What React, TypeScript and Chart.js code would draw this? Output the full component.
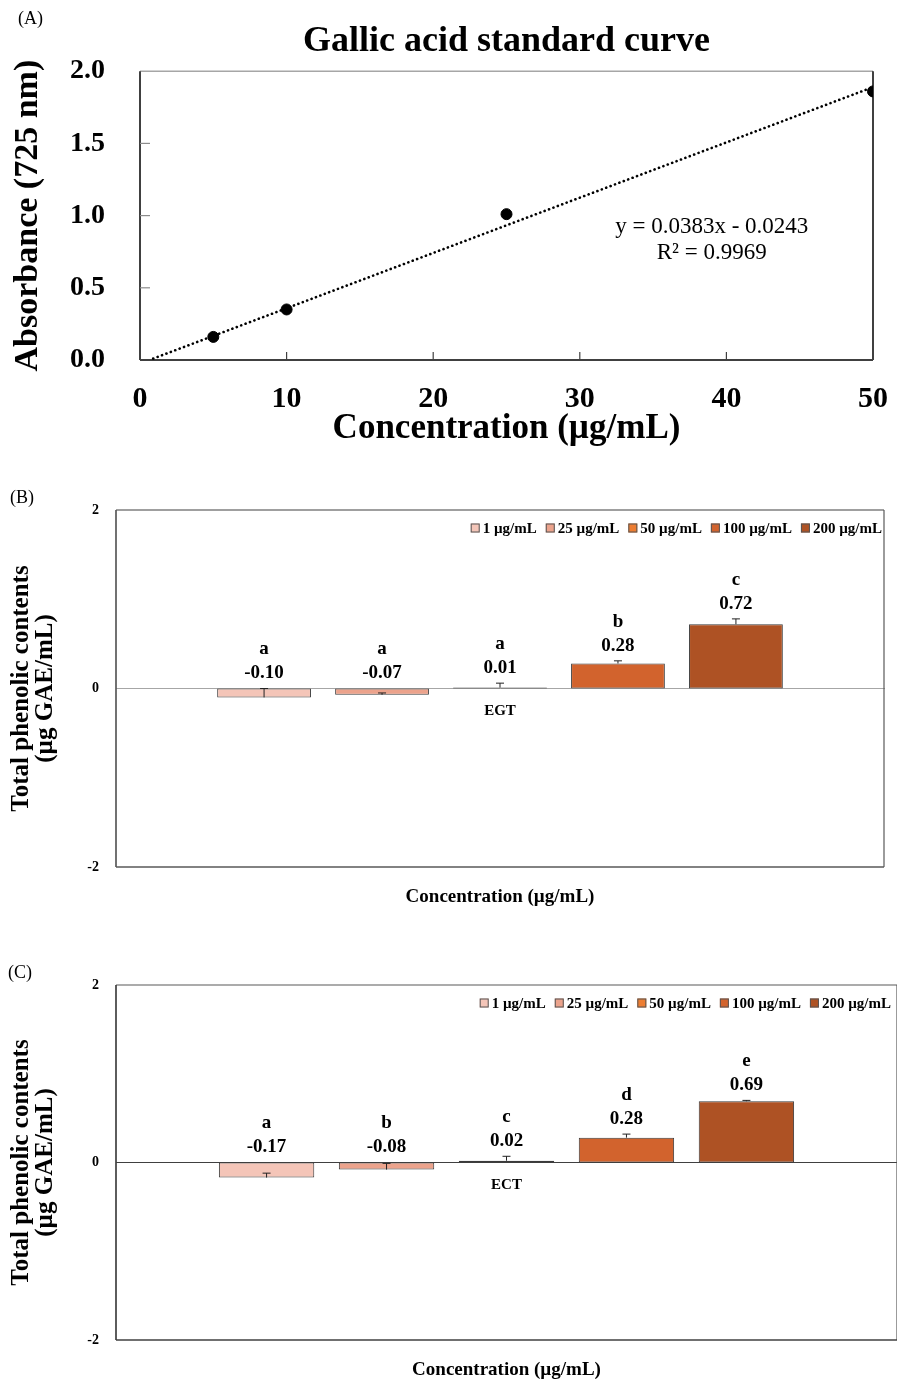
import React, { useEffect, useRef } from 'react';
import { Chart, registerables } from 'chart.js';

Chart.register(...registerables);

const SERIF = '"Liberation Serif", "Times New Roman", serif';

// ---------- Panel A data ----------
const stdConc = [5, 10, 25, 50];
const stdAbs = [0.16, 0.35, 1.01, 1.86];
const trendConc = [0.9, 50];
const trendAbs = [0.01, 1.89];
const equationLines = ['y = 0.0383x - 0.0243', 'R² = 0.9969'];
const equationAnchor = { x: 39.0, y: [0.92, 0.74] };

// ---------- Panel B / C data ----------
const doseLabels = ['1 µg/mL', '25 µg/mL', '50 µg/mL', '100 µg/mL', '200 µg/mL'];
const doseColors = ['#F4C5B8', '#ECA38C', '#ED7D31', '#D2632D', '#AE5224'];

const egtCategory = ['EGT'];
const egtValues = [-0.10, -0.07, 0.01, 0.28, 0.72];
const egtErrors = [0.10, 0.02, 0.05, 0.03, 0.06];
const egtLetters = ['a', 'a', 'a', 'b', 'c'];

const ectCategory = ['ECT'];
const ectValues = [-0.17, -0.08, 0.02, 0.28, 0.69];
const ectErrors = [0.05, 0.07, 0.05, 0.04, 0.01];
const ectLetters = ['a', 'b', 'c', 'd', 'e'];

type Sides = { top: string; right: string; bottom: string; left: string; width: number };

function line(ctx: CanvasRenderingContext2D, x1: number, y1: number, x2: number, y2: number, color: string, w: number) {
  ctx.save();
  ctx.strokeStyle = color;
  ctx.lineWidth = w;
  ctx.beginPath();
  ctx.moveTo(x1, y1);
  ctx.lineTo(x2, y2);
  ctx.stroke();
  ctx.restore();
}

function framePlugin(id: string, sides: Sides, innerTicks: boolean) {
  return {
    id,
    beforeDatasetsDraw(chart: any) {
      const { ctx, chartArea } = chart;
      const { left, right, top, bottom } = chartArea;
      const w = sides.width;
      line(ctx, left, top, right, top, sides.top, w);
      line(ctx, right, top, right, bottom, sides.right, w);
      line(ctx, left, bottom, right, bottom, sides.bottom, w + 0.5);
      line(ctx, left, top, left, bottom, sides.left, w + 0.5);
      if (innerTicks) {
        const xs = chart.scales.x;
        const ys = chart.scales.y;
        xs.ticks.forEach((t: any) => {
          if (t.value <= xs.min || t.value >= xs.max) return;
          const px = xs.getPixelForValue(t.value);
          line(ctx, px, bottom, px, bottom - 8, '#404040', 1.2);
        });
        ys.ticks.forEach((t: any) => {
          if (t.value <= ys.min || t.value >= ys.max) return;
          const py = ys.getPixelForValue(t.value);
          line(ctx, left, py, left + 10, py, '#8c8c8c', 1.2);
        });
      }
    },
  };
}

const equationPlugin = {
  id: 'equation',
  afterDraw(chart: any) {
    const { ctx } = chart;
    const xs = chart.scales.x;
    const ys = chart.scales.y;
    ctx.save();
    ctx.fillStyle = '#000';
    ctx.font = `23px ${SERIF}`;
    ctx.textAlign = 'center';
    ctx.textBaseline = 'middle';
    equationLines.forEach((t, i) => {
      ctx.fillText(t, xs.getPixelForValue(equationAnchor.x), ys.getPixelForValue(equationAnchor.y[i]));
    });
    ctx.restore();
  },
};

function barExtrasPlugin(values: number[], errors: number[], letters: string[], legendRightInset: number) {
  return {
    id: 'barExtras',
    afterDatasetsDraw(chart: any) {
      const { ctx, chartArea } = chart;
      const ys = chart.scales.y;
      ctx.save();
      // error bars (plus direction)
      values.forEach((v, i) => {
        const bar = chart.getDatasetMeta(i).data[0];
        const x = bar.x;
        const y0 = ys.getPixelForValue(v);
        const y1 = ys.getPixelForValue(v + errors[i]);
        line(ctx, x, y0, x, y1, '#222', 1);
        line(ctx, x - 4, y1, x + 4, y1, '#222', 1);
      });
      // value & letter labels
      ctx.fillStyle = '#000';
      ctx.textAlign = 'center';
      ctx.textBaseline = 'middle';
      ctx.font = `bold 19px ${SERIF}`;
      values.forEach((v, i) => {
        const bar = chart.getDatasetMeta(i).data[0];
        const topPx = ys.getPixelForValue(Math.max(0, v + errors[i]));
        ctx.fillText(v.toFixed(2), bar.x, topPx - 15);
        ctx.fillText(letters[i], bar.x, topPx - 39);
      });
      // legend inside plot area, top-right
      ctx.font = `bold 15px ${SERIF}`;
      ctx.textAlign = 'left';
      const box = 9;
      const gapBoxText = 3;
      const gapItems = 9;
      const widths = doseLabels.map((l) => ctx.measureText(l).width);
      const total = widths.reduce((a, b) => a + b, 0) + doseLabels.length * (box + gapBoxText) + (doseLabels.length - 1) * gapItems;
      let x = chartArea.right - legendRightInset - total;
      const yc = chartArea.top + 18;
      doseLabels.forEach((l, i) => {
        ctx.fillStyle = doseColors[i];
        ctx.fillRect(x, yc - box / 2, box, box);
        ctx.strokeStyle = '#555';
        ctx.lineWidth = 1;
        ctx.strokeRect(x + 0.5, yc - box / 2 + 0.5, box - 1, box - 1);
        x += box + gapBoxText;
        ctx.fillStyle = '#000';
        ctx.fillText(l, x, yc + 1);
        x += widths[i] + gapItems;
      });
      ctx.restore();
    },
  };
}

function makeScatterConfig(): any {
  return {
    type: 'scatter',
    data: {
      datasets: [
        {
          label: 'Linear trend',
          data: trendConc.map((x, i) => ({ x, y: trendAbs[i] })),
          showLine: true,
          borderColor: '#000',
          borderWidth: 2.6,
          borderDash: [0.1, 4.6],
          borderCapStyle: 'round',
          pointRadius: 0,
          fill: false,
        },
        {
          label: 'Standard',
          data: stdConc.map((x, i) => ({ x, y: stdAbs[i] })),
          backgroundColor: '#000',
          borderColor: '#000',
          pointRadius: 5.5,
        },
      ],
    },
    options: {
      responsive: false,
      animation: false,
      layout: { padding: { top: 0, right: 24, bottom: 0, left: 0 } },
      plugins: {
        legend: { display: false },
        tooltip: { enabled: false },
        title: {
          display: true,
          fullSize: false,
          text: 'Gallic acid standard curve',
          color: '#000',
          font: { family: SERIF, size: 36, weight: 'bold', lineHeight: 1.2 },
          padding: { top: 20, bottom: 8 },
        },
      },
      scales: {
        x: {
          type: 'linear',
          min: 0,
          max: 50,
          ticks: { stepSize: 10, color: '#000', font: { family: SERIF, size: 30, weight: 'bold' }, padding: 21 },
          grid: { display: false, drawTicks: false },
          border: { display: false },
          title: {
            display: true,
            text: 'Concentration (µg/mL)',
            color: '#000',
            font: { family: SERIF, size: 35, weight: 'bold', lineHeight: 1.2 },
            padding: { top: 0, bottom: 0 },
          },
          afterFit: (s: any) => { s.height = 90; s.paddingLeft = 0; s.paddingRight = 0; },
        },
        y: {
          min: 0,
          max: 2,
          ticks: {
            stepSize: 0.5,
            color: '#000',
            font: { family: SERIF, size: 28, weight: 'bold' },
            padding: 35,
            callback: (v: any) => Number(v).toFixed(1),
          },
          grid: { display: false, drawTicks: false },
          border: { display: false },
          title: {
            display: true,
            text: 'Absorbance (725 nm)',
            color: '#000',
            font: { family: SERIF, size: 34, weight: 'bold', lineHeight: 1.2 },
            padding: { top: 8, bottom: 0 },
          },
          afterFit: (s: any) => { s.width = 140; s.paddingTop = 0; s.paddingBottom = 0; },
        },
      },
    },
    plugins: [
      framePlugin('frameA', { top: '#a6a6a6', right: '#000', bottom: '#404040', left: '#404040', width: 1.5 }, true),
      equationPlugin,
    ],
  };
}

function makeBarConfig(
  category: string[],
  values: number[],
  errors: number[],
  letters: string[],
  zeroColor: string,
  sides: Sides,
  rightPad: number,
  titleBlock: number,
  bottomTitlePad: number,
  legendInset: number,
): any {
  return {
    type: 'bar',
    data: {
      labels: category,
      datasets: doseLabels.map((label, i) => ({
        label,
        data: [values[i]],
        backgroundColor: doseColors[i],
        borderColor: '#3a3a3a',
        borderWidth: 1,
        borderSkipped: false,
        categoryPercentage: 0.768,
        barPercentage: 0.795,
      })),
    },
    options: {
      responsive: false,
      animation: false,
      layout: { padding: { top: 20, right: rightPad, bottom: 0, left: 0 } },
      plugins: {
        legend: { display: false },
        tooltip: { enabled: false },
        title: {
          display: true,
          fullSize: false,
          position: 'bottom',
          text: 'Concentration (µg/mL)',
          color: '#000',
          font: { family: SERIF, size: 19, weight: 'bold', lineHeight: 1.2 },
          padding: { top: titleBlock - 22.8 - bottomTitlePad, bottom: bottomTitlePad },
        },
      },
      scales: {
        x: {
          position: { y: 0 },
          grid: { display: false, drawTicks: false },
          border: { display: true, color: zeroColor, width: 1 },
          ticks: { color: '#000', font: { family: SERIF, size: 15, weight: 'bold' }, padding: 14 },
        },
        y: {
          min: -2,
          max: 2,
          ticks: { stepSize: 2, color: '#000', font: { family: SERIF, size: 14, weight: 'bold' }, padding: 17 },
          grid: { display: false, drawTicks: false },
          border: { display: false },
          title: {
            display: true,
            text: ['Total phenolic contents', '(µg GAE/mL)'],
            color: '#000',
            font: { family: SERIF, size: 25, weight: 'bold', lineHeight: 0.95 },
            padding: { top: 10, bottom: 0 },
          },
          afterFit: (s: any) => { s.width = 116; s.paddingTop = 0; s.paddingBottom = 0; },
        },
      },
    },
    plugins: [framePlugin('frameBar', sides, false), barExtrasPlugin(values, errors, letters, legendInset)],
  };
}

function ChartCanvas({ top, height, makeConfig }: { top: number; height: number; makeConfig: () => any }) {
  const ref = useRef<HTMLCanvasElement | null>(null);
  useEffect(() => {
    if (!ref.current) return;
    const chart = new Chart(ref.current, makeConfig());
    return () => chart.destroy();
  }, []);
  return (
    <canvas
      ref={ref}
      width={897}
      height={height}
      style={{ position: 'absolute', left: 0, top, width: 897, height }}
    />
  );
}

const panelLabelStyle: React.CSSProperties = {
  position: 'absolute',
  fontFamily: SERIF,
  fontSize: 18,
  color: '#000',
  lineHeight: '20px',
};

export default function App() {
  return (
    <div style={{ position: 'absolute', left: 0, top: 0, width: 897, height: 1385, background: '#fff', overflow: 'hidden' }}>
      <ChartCanvas top={0} height={450} makeConfig={makeScatterConfig} />
      <ChartCanvas
        top={490}
        height={430}
        makeConfig={() =>
          makeBarConfig(egtCategory, egtValues, egtErrors, egtLetters, '#a6a6a6',
            { top: '#404040', right: '#595959', bottom: '#595959', left: '#595959', width: 1.2 }, 13, 53, 12, 2)
        }
      />
      <ChartCanvas
        top={965}
        height={420}
        makeConfig={() =>
          makeBarConfig(ectCategory, ectValues, ectErrors, ectLetters, '#404040',
            { top: '#595959', right: '#595959', bottom: '#404040', left: '#404040', width: 1.2 }, 0, 45, 4, 6)
        }
      />
      <div style={{ ...panelLabelStyle, left: 18, top: 8 }}>(A)</div>
      <div style={{ ...panelLabelStyle, left: 10, top: 487 }}>(B)</div>
      <div style={{ ...panelLabelStyle, left: 8, top: 962 }}>(C)</div>
    </div>
  );
}
